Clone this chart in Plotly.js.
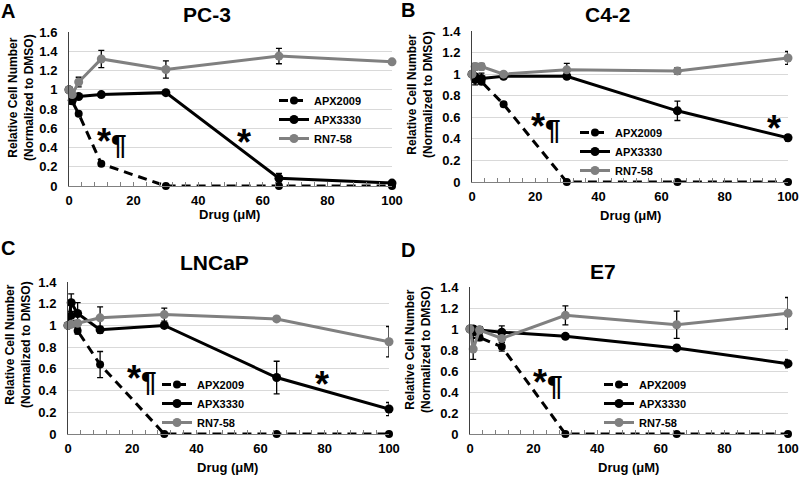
<!DOCTYPE html>
<html>
<head>
<meta charset="utf-8">
<script src="https://cdn.plot.ly/plotly-3.0.1.min.js"></script>
<style>html,body{margin:0;padding:0;background:#fff;}#chart{width:800px;height:477px;}</style>
</head>
<body>
<div id="chart"></div>
<script>
// Drug concentrations (µM)
var dose = [0, 1, 3, 10, 30, 65, 100];
var seriesNames = ['APX2009', 'APX3330', 'RN7-58'];
var panelTitles = ['PC-3', 'C4-2', 'LNCaP', 'E7'];
var panelLetters = ['A', 'B', 'C', 'D'];

// Panel A: PC-3
var pc3_apx2009 = [1.0, 0.88, 0.75, 0.23, 0, 0, 0];
var pc3_apx2009_err = [0, 0.03, 0.02, 0.02, 0, 0, 0];
var pc3_apx3330 = [1.0, 0.89, 0.93, 0.95, 0.97, 0.08, 0.03];
var pc3_apx3330_err = [0, 0.04, 0.02, 0.01, 0.01, 0.05, 0.01];
var pc3_rn758 = [1.0, 0.95, 1.08, 1.32, 1.21, 1.35, 1.29];
var pc3_rn758_err = [0, 0.03, 0.05, 0.09, 0.09, 0.08, 0.02];

// Panel B: C4-2
var c42_apx2009 = [1.0, 0.98, 0.93, 0.72, 0, 0, 0];
var c42_apx2009_err = [0, 0.02, 0.02, 0.02, 0, 0, 0];
var c42_apx3330 = [1.0, 0.95, 0.96, 0.98, 0.98, 0.66, 0.41];
var c42_apx3330_err = [0, 0.05, 0.05, 0.02, 0.02, 0.09, 0.03];
var c42_rn758 = [1.0, 1.07, 1.07, 1.0, 1.04, 1.03, 1.15];
var c42_rn758_err = [0, 0.03, 0.03, 0.02, 0.06, 0.03, 0.06];

// Panel C: LNCaP
var lncap_apx2009 = [1.0, 1.09, 0.95, 0.64, 0, 0, 0];
var lncap_apx2009_err = [0, 0.1, 0.03, 0.12, 0, 0, 0];
var lncap_apx3330 = [1.0, 1.21, 1.11, 0.96, 1.0, 0.52, 0.23];
var lncap_apx3330_err = [0, 0.08, 0.1, 0.03, 0.02, 0.15, 0.06];
var lncap_rn758 = [1.0, 1.01, 1.02, 1.07, 1.1, 1.06, 0.85];
var lncap_rn758_err = [0, 0.02, 0.02, 0.1, 0.06, 0.02, 0.14];

// Panel D: E7
var e7_apx2009 = [1.0, 0.97, 0.92, 0.83, 0, 0, 0];
var e7_apx2009_err = [0, 0.05, 0.03, 0.04, 0, 0, 0];
var e7_apx3330 = [1.0, 1.0, 0.99, 0.97, 0.93, 0.82, 0.67];
var e7_apx3330_err = [0, 0.03, 0.03, 0.06, 0.02, 0.02, 0.04];
var e7_rn758 = [1.0, 0.81, 0.99, 0.91, 1.13, 1.04, 1.15];
var e7_rn758_err = [0, 0.1, 0.03, 0.04, 0.09, 0.13, 0.15];

var yTickVals = [0, 0.2, 0.4, 0.6, 0.8, 1, 1.2, 1.4, 1.6];
var xTickVals = [0, 20, 40, 60, 80, 100];

var panels = [
  [pc3_apx2009, pc3_apx2009_err, pc3_apx3330, pc3_apx3330_err, pc3_rn758, pc3_rn758_err],
  [c42_apx2009, c42_apx2009_err, c42_apx3330, c42_apx3330_err, c42_rn758, c42_rn758_err],
  [lncap_apx2009, lncap_apx2009_err, lncap_apx3330, lncap_apx3330_err, lncap_rn758, lncap_rn758_err],
  [e7_apx2009, e7_apx2009_err, e7_apx3330, e7_apx3330_err, e7_rn758, e7_rn758_err]
];
var yMax = [1.6, 1.4, 1.4, 1.4];

var styles = [
  {color: '#000000', dash: '9px,6px', size: 8},
  {color: '#000000', dash: 'solid', size: 9},
  {color: '#808080', dash: 'solid', size: 9}
];

var traces = [];
panels.forEach(function (p, i) {
  var sfx = i === 0 ? '' : String(i + 1);
  for (var s = 0; s < 3; s++) {
    traces.push({
      type: 'scatter',
      mode: 'lines+markers',
      x: dose,
      y: p[2 * s],
      name: seriesNames[s],
      xaxis: 'x' + sfx,
      yaxis: 'y' + sfx,
      legend: 'legend' + sfx,
      cliponaxis: false,
      line: {color: styles[s].color, width: 3, dash: styles[s].dash},
      marker: {color: styles[s].color, size: styles[s].size, symbol: 'circle'},
      error_y: {type: 'data', array: p[2 * s + 1], visible: true, color: '#000000', thickness: 1.3, width: 3}
    });
  }
});

// plot-area pixel boxes [left, right, top, bottom]
var boxes = [[69, 392, 32, 186], [472, 788, 31, 182], [68, 389, 282, 434], [470, 788, 287, 434]];
var W = 800, H = 477;
var font = {family: 'Liberation Sans, Arial, sans-serif', color: '#000000', weight: 700};

var layout = {
  width: W, height: H,
  margin: {l: 0, r: 0, t: 0, b: 0},
  paper_bgcolor: '#ffffff', plot_bgcolor: '#ffffff',
  font: font,
  showlegend: true,
  annotations: []
};

var legendPos = [[274, 86], [575, 118], [157, 370], [599, 370]];
var yTitlePos = [[21, 98], [420, 95], [18, 345], [418, 350]];
var xTitlePos = [[230, 214], [630, 215], [228, 467], [628, 467]];
var titlePos = [[207, 15], [608, 15], [214, 262], [603, 271]];
var letterPos = [[8, 11], [408, 10], [8, 248], [408, 250]];

boxes.forEach(function (b, i) {
  var sfx = i === 0 ? '' : String(i + 1);
  layout['xaxis' + sfx] = {
    domain: [b[0] / W, b[1] / W],
    anchor: 'y' + sfx,
    range: [0, 100],
    tickvals: xTickVals,
    ticks: 'inside', ticklen: 4, tickcolor: '#808080', tickwidth: 1,
    minor: {dtick: 4, ticks: 'inside', ticklen: 4, tickcolor: '#808080', showgrid: false},
    showline: true, linecolor: '#808080', linewidth: 1,
    showgrid: false, zeroline: false,
    tickfont: {size: 13, family: font.family, weight: 700},
    ticklabelstandoff: 2,
    fixedrange: true
  };
  layout['yaxis' + sfx] = {
    domain: [1 - b[3] / H, 1 - b[2] / H],
    anchor: 'x' + sfx,
    range: [0, yMax[i]],
    tickvals: yTickVals.filter(function (v) { return v <= yMax[i] + 1e-9; }),
    ticks: '',
    showline: true, linecolor: '#404040', linewidth: 1,
    showgrid: true, gridcolor: '#d9d9d9', gridwidth: 1,
    zeroline: false,
    tickfont: {size: 13, family: font.family, weight: 700},
    ticklabelstandoff: 8,
    fixedrange: true
  };
  layout['legend' + sfx] = {
    x: legendPos[i][0] / W, y: 1 - legendPos[i][1] / H,
    xanchor: 'left', yanchor: 'top',
    bgcolor: 'rgba(0,0,0,0)', borderwidth: 0,
    font: {size: 11, family: font.family, weight: 700},
    tracegroupgap: 0, itemwidth: 30
  };
  layout.annotations.push({
    xref: 'paper', yref: 'paper', x: letterPos[i][0] / W, y: 1 - letterPos[i][1] / H,
    text: panelLetters[i], showarrow: false, xanchor: 'center', yanchor: 'middle',
    font: {size: 20, family: font.family, weight: 700}
  });
  layout.annotations.push({
    xref: 'paper', yref: 'paper', x: titlePos[i][0] / W, y: 1 - titlePos[i][1] / H,
    text: panelTitles[i], showarrow: false, xanchor: 'center', yanchor: 'middle',
    font: {size: 21, family: font.family, weight: 700}
  });
  layout.annotations.push({
    xref: 'paper', yref: 'paper', x: yTitlePos[i][0] / W, y: 1 - yTitlePos[i][1] / H,
    text: 'Relative Cell Number<br>(Normalized to DMSO)', showarrow: false, textangle: -90,
    xanchor: 'center', yanchor: 'middle',
    font: {size: 12, family: font.family, weight: 700}
  });
  layout.annotations.push({
    xref: 'paper', yref: 'paper', x: xTitlePos[i][0] / W, y: 1 - xTitlePos[i][1] / H,
    text: 'Drug (μM)', showarrow: false, xanchor: 'center', yanchor: 'middle',
    font: {size: 13, family: font.family, weight: 700}
  });
});

// significance marks
var starPara = '<span style="font-size:36px">*</span>¶';
var star = '<span style="font-size:36px">*</span>';
var sig = [
  ['x', 'y', 13.3, 0.46, starPara], ['x', 'y', 54.2, 0.45, star],
  ['x2', 'y2', 23.4, 0.51, starPara], ['x2', 'y2', 95.6, 0.50, star],
  ['x3', 'y3', 23.0, 0.51, starPara], ['x3', 'y3', 79.1, 0.46, star],
  ['x4', 'y4', 24.5, 0.486, starPara]
];
sig.forEach(function (a) {
  layout.annotations.push({
    xref: a[0], yref: a[1], x: a[2], y: a[3], text: a[4], showarrow: false,
    xanchor: 'center', yanchor: 'middle',
    font: {size: 28, family: font.family, weight: 700}
  });
});

Plotly.newPlot('chart', traces, layout, {displayModeBar: false, staticPlot: true});
</script>
</body>
</html>
